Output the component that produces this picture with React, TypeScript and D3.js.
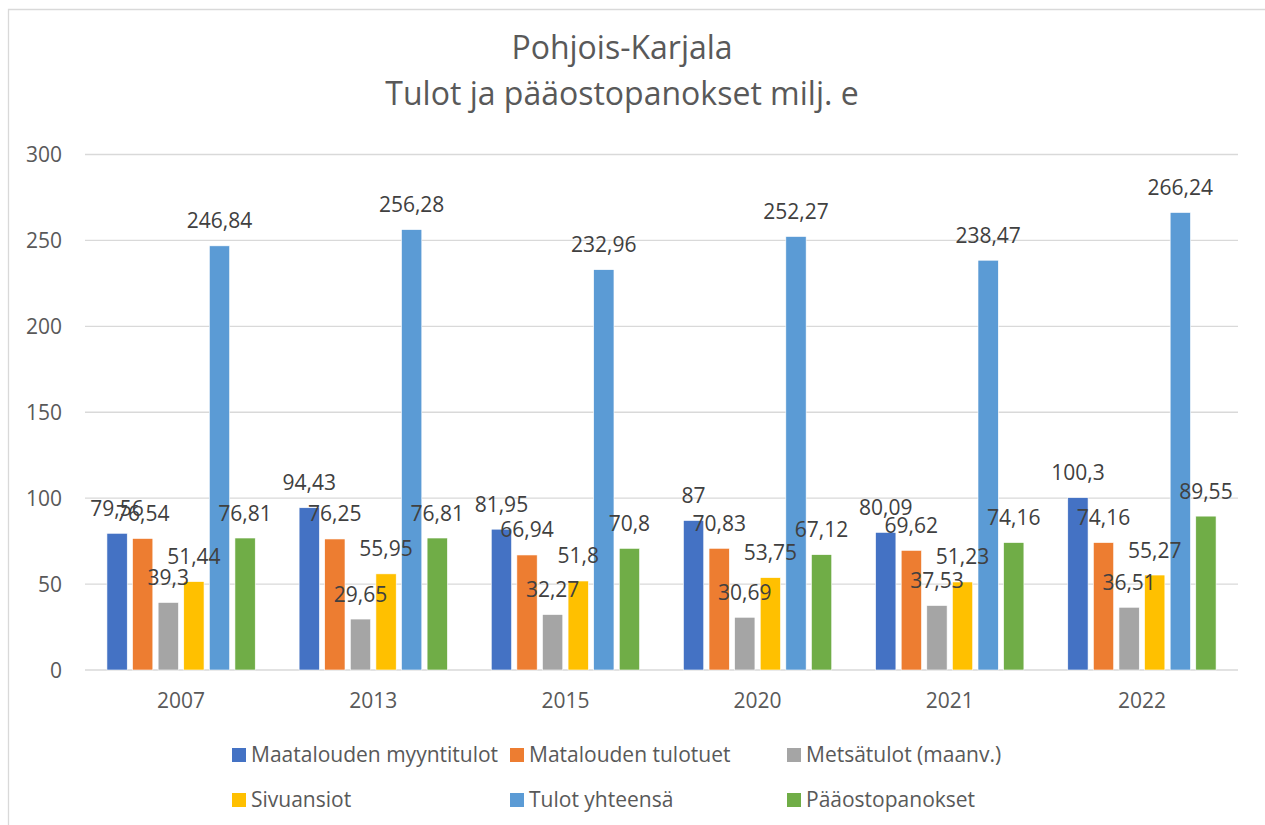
import React from "react";
import * as d3 from "d3";

const categories = ["2007", "2013", "2015", "2020", "2021", "2022"];
const seriesNames = [
  "Maatalouden myyntitulot",
  "Matalouden tulotuet",
  "Metsätulot (maanv.)",
  "Sivuansiot",
  "Tulot yhteensä",
  "Pääostopanokset",
];
const myyntitulot = [79.56, 94.43, 81.95, 87, 80.09, 100.3];
const tulotuet = [76.54, 76.25, 66.94, 70.83, 69.62, 74.16];
const metsatulot = [39.3, 29.65, 32.27, 30.69, 37.53, 36.51];
const sivuansiot = [51.44, 55.95, 51.8, 53.75, 51.23, 55.27];
const tulotYhteensa = [246.84, 256.28, 232.96, 252.27, 238.47, 266.24];
const paaostopanokset = [76.81, 76.81, 70.8, 67.12, 74.16, 89.55];
const seriesValues = [myyntitulot, tulotuet, metsatulot, sivuansiot, tulotYhteensa, paaostopanokset];
const colors = ["#4472C4", "#ED7D31", "#A5A5A5", "#FFC000", "#5B9BD5", "#70AD47"];
const yTicks = [0, 50, 100, 150, 200, 250, 300];
const titleLines = ["Pohjois-Karjala", "Tulot ja pääostopanokset milj. e"];

const W = 1265;
const H = 825;
const FONT = "'Open Sans', sans-serif";

export default function App() {
  const x0 = d3.scaleBand<string>().domain(categories).range([85, 1238]).padding(0);
  const x1 = d3
    .scaleBand<string>()
    .domain(seriesNames)
    .range([-76.8, 76.8])
    .paddingInner(0.207)
    .paddingOuter(0.1035);
  const y = d3.scaleLinear().domain([0, 300]).range([670, 154.5]);
  const fmt = (v: number) => String(v).replace(".", ",");

  const legendCols = [232, 510, 787];
  const legendRows = [755, 800];

  return (
    <svg
      width={W}
      height={H}
      style={{ position: "absolute", left: 0, top: 0, display: "block" }}
      fontFamily={FONT}
    >
      <rect x={0} y={0} width={W} height={H} fill="#fff" />
      <path d={`M8.5,${H + 5} L8.5,9.5 L${W + 5},9.5`} fill="none" stroke="#d9d9d9" strokeWidth={1.3} />

      {titleLines.map((t, i) => (
        <text key={t} x={622} y={59 + i * 46} textAnchor="middle" fontSize={32} fill="#595959">
          {t}
        </text>
      ))}

      {yTicks.map((t) => (
        <g key={t}>
          <line x1={85} x2={1238} y1={y(t)} y2={y(t)} stroke="#d9d9d9" strokeWidth={1.3} />
          <text x={62} y={y(t) + 7.5} textAnchor="end" fontSize={21} fill="#595959">
            {t}
          </text>
        </g>
      ))}

      {categories.map((c, ci) => {
        const cx = (x0(c) as number) + x0.bandwidth() / 2;
        return (
          <g key={c}>
            {seriesNames.map((s, si) => {
              const v = seriesValues[si][ci];
              const bx = cx + (x1(s) as number);
              return (
                <rect
                  key={s}
                  x={bx}
                  y={y(v)}
                  width={x1.bandwidth()}
                  height={y(0) - y(v)}
                  fill={colors[si]}
                  stroke="#fff"
                  strokeWidth={0.6}
                />
              );
            })}
            <text x={cx} y={708} textAnchor="middle" fontSize={21} fill="#595959">
              {c}
            </text>
          </g>
        );
      })}

      {categories.map((c, ci) => {
        const cx = (x0(c) as number) + x0.bandwidth() / 2;
        return seriesNames.map((s, si) => {
          const v = seriesValues[si][ci];
          const lx = cx + (x1(s) as number) + x1.bandwidth() / 2;
          return (
            <text
              key={c + s}
              x={lx}
              y={y(v) - 17.5}
              textAnchor="middle"
              fontSize={21}
              fill="#404040"
            >
              {fmt(v)}
            </text>
          );
        });
      })}

      {seriesNames.map((s, i) => {
        const lx = legendCols[i % 3];
        const ly = legendRows[Math.floor(i / 3)];
        return (
          <g key={s}>
            <rect x={lx} y={ly - 7} width={14} height={14} fill={colors[i]} />
            <text x={lx + 19} y={ly + 7} fontSize={21} fill="#595959">
              {s}
            </text>
          </g>
        );
      })}
    </svg>
  );
}
